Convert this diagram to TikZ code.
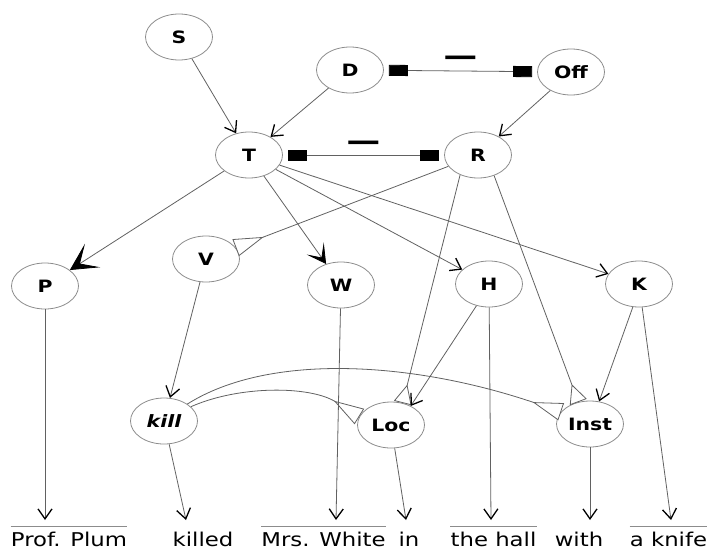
\documentclass[tikz,border=0pt]{standalone}
\usepackage{fontspec}
\setmainfont{DejaVu Sans}[FakeStretch=1.2]
\usetikzlibrary{shapes.geometric,arrows.meta}

\begin{document}
\begin{tikzpicture}[x=1pt,y=-1pt,
  var/.style={ellipse, draw=black!45, line width=0.8pt, minimum width=67pt,
    minimum height=46pt, inner sep=0pt, font=\bfseries\fontsize{17}{17}\selectfont},
  word/.style={anchor=base, inner sep=0pt, text height=14pt, text depth=0pt,
    font=\fontsize{19}{19}\selectfont},
  conn/.style={draw=black!62, line width=0.8pt},
  arr/.style={conn, -{Straight Barb[length=10pt,width=14pt,line width=1.3pt,color=black]}},
  bigarr/.style={conn, -{Stealth[length=27pt,width=28pt,inset=15pt,color=black]}},
  midarr/.style={conn, -{Stealth[length=19pt,width=21pt,inset=11pt,color=black]}},
  inh/.style={conn, -{Triangle[reversed,length=30pt,width=18pt,fill=white]}},
  dome/.style={conn, -{Triangle[reversed,round,length=19pt,width=18pt,fill=white]}},
  neg/.style={conn, {Rectangle[length=19pt,width=11pt,color=black]}-{Rectangle[length=19pt,width=11pt,color=black]},
    shorten <=5pt, shorten >=5pt},
  bar/.style={anchor=base, inner sep=0pt, font=\bfseries\fontsize{28}{28}\selectfont},
  overbar/.style={draw=black!45, line width=0.8pt}
]
\useasboundingbox (0,0) rectangle (719,551);

% variables
\node[var] (S)    at (179,37)  {S};
\node[var] (D)    at (350,70)  {D};
\node[var] (Off)  at (571,72)  {Off};
\node[var] (T)    at (249,155) {T};
\node[var] (R)    at (478,155) {R};
\node[var] (P)    at (45,286)  {P};
\node[var] (V)    at (206,259) {V};
\node[var] (W)    at (341,285) {W};
\node[var] (H)    at (489,284) {H};
\node[var] (K)    at (639,284) {K};
\node[var] (kill) at (164,421) {\itshape kill};
\node[var] (Loc)  at (391,425) {Loc};
\node[var] (Inst) at (590,424) {Inst};

% sentence
\node[word] (w1) at (69,546)    {Prof. Plum};
\node[word] (w2) at (203,546)   {killed};
\node[word] (w3) at (323.5,546) {Mrs. White};
\node[word] (w4) at (409,546)   {in};
\node[word] (w5) at (493.5,546) {the hall};
\node[word] (w6) at (579,546)   {with};
\node[word] (w7) at (668.5,546) {a knife};

\foreach \w in {w1,w3,w5,w7}
  \draw[overbar] ([yshift=5pt]\w.north west) -- ([yshift=5pt]\w.north east);

\coordinate (a1) at (45,520);
\coordinate (a2) at (186,520);
\coordinate (a3) at (336,520);
\coordinate (a4) at (406,520);
\coordinate (a5) at (491,520);
\coordinate (a6) at (590,520);
\coordinate (a7) at (671,520);

% top level
\draw[arr] (S) -- (T);
\draw[arr] (D) -- (T);
\draw[arr] (Off) -- (R);
\draw[neg] (D) -- coordinate[midway] (m1) (Off);
\draw[neg] (T) -- coordinate[midway] (m2) (R);
\node[bar] (n1) at ([yshift=5pt]m1) {—};
\node[bar] (n2) at ([yshift=5pt]m2) {—};

% from T and R
\draw[bigarr] (T) -- (P);
\draw[midarr] (T) -- (W);
\draw[arr] (T) -- (H);
\draw[arr] (T) -- (K);
\draw[inh] (R) -- (V);
\draw[dome] (R.228) -- (Loc.62);
\draw[dome] (R.308) -- (Inst.118);
\draw[arr] (H.240) -- (Loc.44);
\draw[arr] (K.255) -- (Inst.68);
\draw[arr] (V) -- (kill);

% roles of kill
\draw[inh] (kill.28) .. controls (240,385) and (310,386) .. (Loc.165);
\draw[inh] (kill.36) .. controls (270,352) and (414,362) .. (Inst.157);

% down to the words
\draw[arr] (P) -- (a1);
\draw[arr] (kill) -- (a2);
\draw[arr] (W) -- (a3);
\draw[arr] (Loc) -- (a4);
\draw[arr] (H) -- (a5);
\draw[arr] (Inst) -- (a6);
\draw[arr] (K) -- (a7);
\end{tikzpicture}
\end{document}
